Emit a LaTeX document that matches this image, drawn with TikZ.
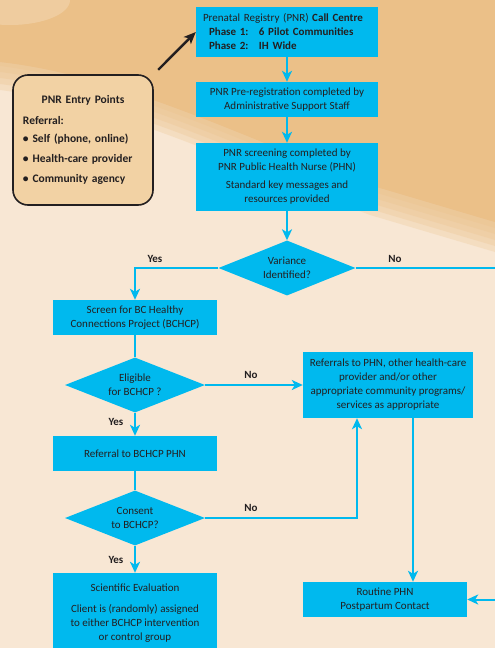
\documentclass[tikz,border=0pt]{standalone}
\usepackage{fontspec}
\setmainfont{Carlito}
\usepackage{xcolor}
\usetikzlibrary{shapes.geometric, arrows.meta}

\definecolor{pnrblue}{RGB}{0,185,238}
\definecolor{cream}{RGB}{248,231,212}
\definecolor{swoosh}{RGB}{235,192,136}
\definecolor{entrytan}{RGB}{242,210,164}
\definecolor{ink}{RGB}{35,31,32}

\begin{document}
\begin{tikzpicture}[x=1pt, y=-1pt,
        box/.style={rectangle, fill=pnrblue, text=ink, align=center,
        inner sep=2pt, font=\fontsize{11}{14}\selectfont},
        decision/.style={diamond, aspect=2.5, fill=pnrblue, text=ink,
        align=center, inner sep=0pt, font=\fontsize{11}{14}\selectfont},
        lbl/.style={text=ink, inner sep=0pt, font=\bfseries\fontsize{11}{12}\selectfont},
        entrybox/.style={rectangle, rounded corners=15pt, draw=ink, line width=1.6pt,
        fill=entrytan, text=ink, text width=120pt, align=left,
        font=\bfseries\fontsize{11.5}{14}\selectfont},
        flow/.style={pnrblue, line width=2pt, -{Stealth[length=11pt, width=10pt, inset=3pt]}},
        link/.style={pnrblue, line width=2pt}]

        % background
        \useasboundingbox (0,0) rectangle (495,648);
        \clip (0,0) rectangle (495,648);
        \fill[cream] (0,0) rectangle (495,648);
        \fill[swoosh] (0,0) -- (495,0) -- (495,222) -- (370,185)
            .. controls (250,140) and (120,75) .. (0,62) -- cycle;
        \foreach \d in {-4,2,8,14,20}
            \fill[swoosh, opacity=0.25] (0,0) -- (495,0) -- (495,232+\d) -- (370,195+\d)
                .. controls (250,150+\d) and (120,85+\d) .. (0,70+\d) -- cycle;
        \fill[white, opacity=0.2] (10,0) ellipse (60 and 25);

        % main column
        \node[box, text width=168pt, align=left, minimum width=182pt, minimum height=50pt] (call) at (287,32)
            {Prenatal Registry (PNR) \textbf{Call Centre}\\
             \hspace*{6pt}\makebox[50pt][l]{\textbf{Phase 1:}}\textbf{6 Pilot Communities}\\
             \hspace*{6pt}\makebox[50pt][l]{\textbf{Phase 2:}}\textbf{IH Wide}};
        \node[box, minimum width=182pt, minimum height=35pt] (prereg) at (287,99.5)
            {PNR Pre-registration completed by\\Administrative Support Staff};
        \node[box, minimum width=182pt, minimum height=68pt] (screen) at (287,177)
            {PNR screening completed by\\PNR Public Health Nurse (PHN)\\[4pt]
             Standard key messages and\\resources provided};
        \node[decision, minimum width=137pt, minimum height=55pt] (var) at (287,268)
            {Variance\\Identified?};

        % entry points
        \node[entrybox, minimum width=140pt, minimum height=130pt] (entry) at (83,140)
            {\makebox[120pt]{PNR Entry Points}\\[7pt]
             Referral:\\[4pt]
             \textbullet\ Self (phone, online)\\[6pt]
             \textbullet\ Health-care provider\\[6pt]
             \textbullet\ Community agency};

        % left column
        \node[box, minimum width=164pt, minimum height=35pt] (bchcp) at (135,317.5)
            {Screen for BC Healthy\\Connections Project (BCHCP)};
        \node[decision, minimum width=140pt, minimum height=55pt] (elig) at (135,385)
            {Eligible\\for BCHCP ?};
        \node[box, minimum width=164pt, minimum height=35pt] (phn) at (135,453.5)
            {Referral to BCHCP PHN};
        \node[decision, minimum width=140pt, minimum height=55pt] (consent) at (135,518)
            {Consent\\to BCHCP?};
        \node[box, minimum width=164pt, minimum height=80pt] (sci) at (135,613)
            {Scientific Evaluation\\[7pt]Client is (randomly) assigned\\
             to either BCHCP intervention\\or control group};

        % right column
        \node[box, minimum width=170pt, minimum height=66pt] (refer) at (388,385)
            {Referrals to PHN, other health-care\\provider and/or other\\
             appropriate community programs/\\services as appropriate};
        \node[box, minimum width=164pt, minimum height=35pt] (routine) at (385,599.5)
            {Routine PHN\\Postpartum Contact};
        \coordinate (offright) at (510,268);

        % labels
        \node[lbl] (yesvar) at (155,259) {Yes};
        \node[lbl] (novar) at (395,259) {No};
        \node[lbl] (noelig) at (251,375) {No};
        \node[lbl] (yeselig) at (116,422) {Yes};
        \node[lbl] (nocons) at (251,508) {No};
        \node[lbl] (yescons) at (116,560) {Yes};

        % connectors
        \draw[ink, line width=2.4pt, shorten <=6.2pt,
            -{Stealth[length=12pt, width=10pt, inset=3pt]}] (entry.north east) -- (call.west);
        \draw[flow] (call) -- (prereg);
        \draw[flow] (prereg) -- (screen);
        \draw[flow] (screen) -- (var);
        \draw[flow] (var.west) -| (bchcp.north);
        \draw[flow] (var.east) -- (offright) |- (routine.east);
        \draw[link] (bchcp) -- (elig);
        \draw[flow] (elig.east) -- (elig.east -| refer.west);
        \draw[flow] (elig) -- (phn);
        \draw[link] (phn) -- (consent);
        \draw[flow] (consent.east) -| ([xshift=-31pt]refer.south);
        \draw[flow] (consent) -- (sci);
        \draw[flow] ([xshift=25pt]refer.south) -- ([xshift=25pt]refer.south |- routine.north);
    \end{tikzpicture}
\end{document}
